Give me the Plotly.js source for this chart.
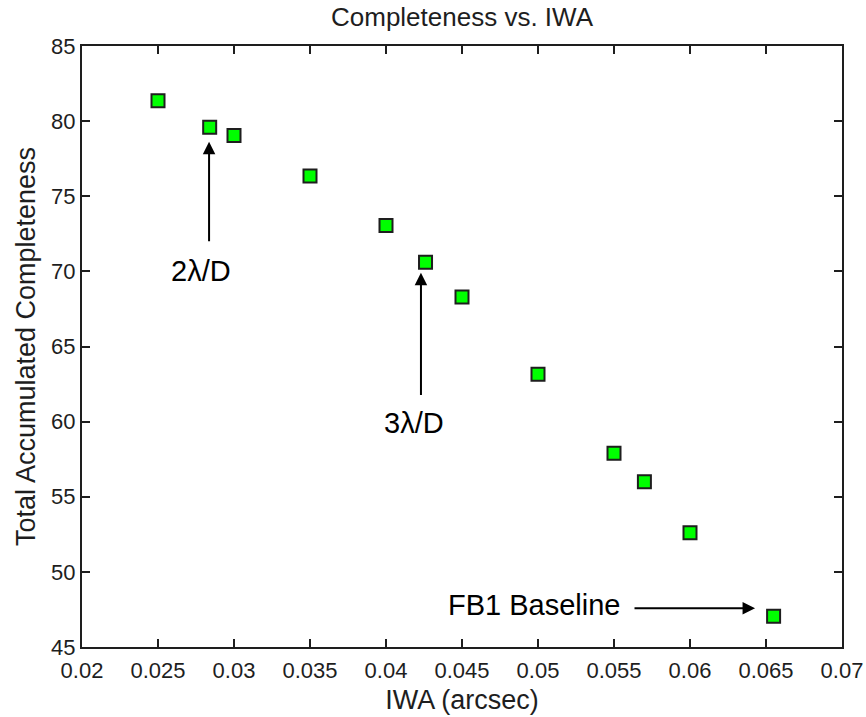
<!DOCTYPE html>
<html>
<head>
<meta charset="utf-8">
<script src="https://cdn.plot.ly/plotly-3.0.1.min.js"></script>
<style>html,body{margin:0;padding:0;background:#fff;}#chart{width:866px;height:717px;}</style>
</head>
<body>
<div id="chart"></div>
<script>
// Data
var iwa = [0.025, 0.0284, 0.030, 0.035, 0.040, 0.0426, 0.045, 0.050, 0.055, 0.057, 0.060, 0.0655];
var completeness = [81.35, 79.6, 79.05, 76.35, 73.05, 70.6, 68.3, 63.15, 57.9, 56.0, 52.6, 47.05];

var xTickVals = [0.02, 0.025, 0.03, 0.035, 0.04, 0.045, 0.05, 0.055, 0.06, 0.065, 0.07];
var xTickText = ["0.02", "0.025", "0.03", "0.035", "0.04", "0.045", "0.05", "0.055", "0.06", "0.065", "0.07"];
var yTickVals = [45, 50, 55, 60, 65, 70, 75, 80, 85];

var titleText = "Completeness vs. IWA";
var xLabel = "IWA (arcsec)";
var yLabel = "Total Accumulated Completeness";

// annotation labels and anchor points (data coordinates)
var noteLabels = ["2\u03bb/D", "3\u03bb/D", "FB1 Baseline"];
var noteTextX = [0.02783, 0.04184, 0.04974];
var noteTextY = [70.0, 59.9, 47.8];
var arrowHeadX = [0.02836, 0.0423, 0.06428];
var arrowHeadY = [78.63, 69.91, 47.58];
var arrowTailX = [0.02836, 0.0423, 0.05625];
var arrowTailY = [71.9, 61.67, 47.58];

var font = "Arial, 'Liberation Sans', Helvetica, sans-serif";
var ink = "#1e1e1e";

var trace = {
  x: iwa,
  y: completeness,
  type: "scatter",
  mode: "markers",
  marker: {
    symbol: "square",
    size: 13,
    color: "#00ff00",
    line: {color: "#1e1e1e", width: 2}
  },
  hoverinfo: "x+y"
};

var annotations = [];
for (var i = 0; i < noteLabels.length; i++) {
  annotations.push({
    x: arrowHeadX[i], y: arrowHeadY[i], xref: "x", yref: "y",
    ax: arrowTailX[i], ay: arrowTailY[i], axref: "x", ayref: "y",
    text: "", showarrow: true, arrowhead: 2, arrowsize: 1.25, arrowwidth: 2,
    arrowcolor: "#000"
  });
  annotations.push({
    x: noteTextX[i], y: noteTextY[i], xref: "x", yref: "y",
    text: noteLabels[i], showarrow: false,
    xanchor: "center", yanchor: "middle",
    font: {family: font, size: 29, color: "#000"}
  });
}

var axisCommon = {
  showgrid: false,
  zeroline: false,
  showline: true,
  linecolor: ink,
  linewidth: 2,
  mirror: "ticks",
  ticks: "inside",
  ticklen: 8,
  tickwidth: 2,
  tickcolor: ink,
  tickfont: {family: font, size: 22, color: ink}
};

var layout = {
  width: 866,
  height: 717,
  margin: {l: 82, r: 24, t: 46, b: 70, pad: 0},
  paper_bgcolor: "#ffffff",
  plot_bgcolor: "#ffffff",
  showlegend: false,
  title: {
    text: titleText,
    font: {family: font, size: 26, color: ink},
    x: 0.5, xref: "paper",
    y: 1 - 17/717, yref: "container", yanchor: "middle"
  },
  xaxis: Object.assign({}, axisCommon, {
    range: [0.02, 0.07],
    tickmode: "array",
    tickvals: xTickVals,
    ticktext: xTickText,
    ticklabelstandoff: 3,
    title: {text: xLabel, font: {family: font, size: 27, color: ink}, standoff: 8}
  }),
  yaxis: Object.assign({}, axisCommon, {
    range: [45, 85],
    tickmode: "array",
    tickvals: yTickVals,
    ticklabelstandoff: 0,
    title: {text: yLabel, font: {family: font, size: 27, color: ink}, standoff: 8}
  }),
  annotations: annotations
};

Plotly.newPlot("chart", [trace], layout, {displayModeBar: false, staticPlot: true});
</script>
</body>
</html>
